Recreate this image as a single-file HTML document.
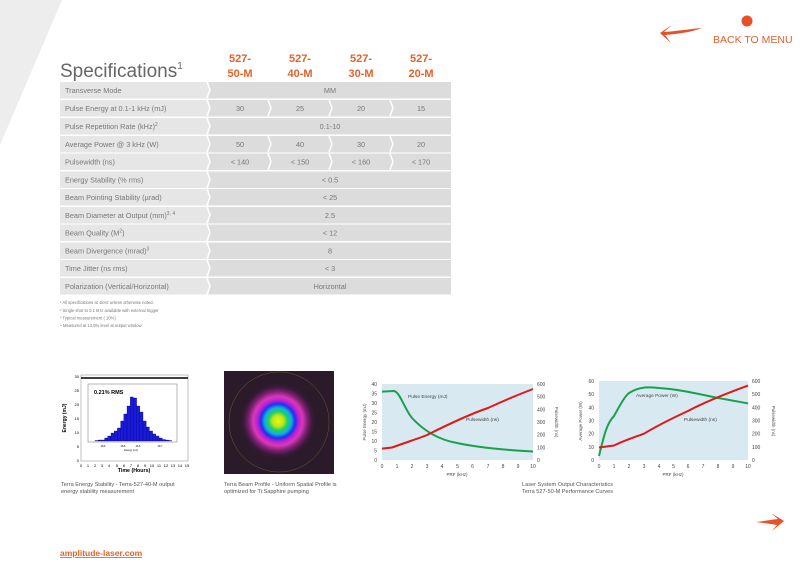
<!DOCTYPE html>
<html><head><meta charset="utf-8"><style>
html,body{margin:0;padding:0;background:#fff;width:800px;height:566px;overflow:hidden}
svg{display:block;font-family:"Liberation Sans",sans-serif}
</style></head><body>
<svg width="800" height="566" viewBox="0 0 800 566" xmlns="http://www.w3.org/2000/svg">
<defs>
<radialGradient id="beam" cx="0.5" cy="0.5" r="0.5">
<stop offset="0" stop-color="#f4f020"/>
<stop offset="0.15" stop-color="#b8e818"/>
<stop offset="0.25" stop-color="#20d060"/>
<stop offset="0.35" stop-color="#10b0e0"/>
<stop offset="0.45" stop-color="#2030f0"/>
<stop offset="0.55" stop-color="#c020d0"/>
<stop offset="0.65" stop-color="#d838b8"/>
<stop offset="0.78" stop-color="#7a2070"/>
<stop offset="0.9" stop-color="#3a1a3a"/>
<stop offset="1" stop-color="#2a1a2a"/>
</radialGradient>
</defs>
<polygon points="0,0 62,0 0,145" fill="#ededed"/>
<circle cx="747" cy="21" r="5.5" fill="#e8502a"/>
<path d="M702,28 C690,29 678,31 664,32 L672,25 L660,33 L671,43 L665,35 C678,34 692,32 702,28 Z" fill="#e8502a"/>
<text x="713" y="43" font-size="10.5" fill="#e0602a">BACK TO MENU</text>
<text x="60" y="77" font-size="19" fill="#666">Specifications<tspan font-size="10" dy="-8">1</tspan></text>
<g font-size="11" font-weight="bold" fill="#e0622a" text-anchor="middle">
<text x="240" y="62">527-</text><text x="240" y="77">50-M</text>
<text x="300" y="62">527-</text><text x="300" y="77">40-M</text>
<text x="361" y="62">527-</text><text x="361" y="77">30-M</text>
<text x="421" y="62">527-</text><text x="421" y="77">20-M</text>
</g>
<g>
<g fill="#e6e6e6">
<rect x="60" y="82" width="150" height="16.5"/><rect x="60" y="100" width="150" height="16.5"/><rect x="60" y="118" width="150" height="16.5"/><rect x="60" y="136" width="150" height="16.5"/><rect x="60" y="153.5" width="150" height="16.5"/><rect x="60" y="171.5" width="150" height="16.5"/><rect x="60" y="189" width="150" height="16.5"/><rect x="60" y="207" width="150" height="16.5"/><rect x="60" y="224.5" width="150" height="16.5"/><rect x="60" y="242.5" width="150" height="16.5"/><rect x="60" y="260" width="150" height="16.5"/><rect x="60" y="278" width="150" height="16.5"/>
</g>
<g fill="#dcdcdc">
<rect x="209" y="82" width="242" height="16.5"/><rect x="209" y="100" width="242" height="16.5"/><rect x="209" y="118" width="242" height="16.5"/><rect x="209" y="136" width="242" height="16.5"/><rect x="209" y="153.5" width="242" height="16.5"/><rect x="209" y="171.5" width="242" height="16.5"/><rect x="209" y="189" width="242" height="16.5"/><rect x="209" y="207" width="242" height="16.5"/><rect x="209" y="224.5" width="242" height="16.5"/><rect x="209" y="242.5" width="242" height="16.5"/><rect x="209" y="260" width="242" height="16.5"/><rect x="209" y="278" width="242" height="16.5"/>
</g>
<g stroke="#fff" stroke-width="1.5" fill="none">
<path d="M207,82 L210,90 L207,98 M207,100 L210,108 L207,116 M207,118 L210,126 L207,134 M207,136 L210,144 L207,152 M207,153.5 L210,161.5 L207,170 M207,171.5 L210,179.5 L207,188 M207,189 L210,197 L207,205.5 M207,207 L210,215 L207,223 M207,224.5 L210,232.5 L207,241 M207,242.5 L210,250.5 L207,259 M207,260 L210,268 L207,276.5 M207,278 L210,286 L207,294.5"/>
<path d="M268,100 L271,108 L268,116 M329,100 L332,108 L329,116 M390,100 L393,108 L390,116 M268,136 L271,144 L268,152 M329,136 L332,144 L329,152 M390,136 L393,144 L390,152 M268,153.5 L271,161.5 L268,170 M329,153.5 L332,161.5 L329,170 M390,153.5 L393,161.5 L390,170"/>
</g>
<g font-size="7.3" fill="#777">
<text x="65" y="93">Transverse Mode</text>
<text x="65" y="111">Pulse Energy at 0.1-1 kHz (mJ)</text>
<text x="65" y="129">Pulse Repetition Rate (kHz)<tspan font-size="5" dy="-3">2</tspan></text>
<text x="65" y="147">Average Power @ 3 kHz (W)</text>
<text x="65" y="164.5">Pulsewidth (ns)</text>
<text x="65" y="182.5">Energy Stability (% rms)</text>
<text x="65" y="200">Beam Pointing Stability (µrad)</text>
<text x="65" y="218">Beam Diameter at Output (mm)<tspan font-size="5" dy="-3">3, 4</tspan></text>
<text x="65" y="235.5">Beam Quality (M<tspan font-size="5" dy="-3">2</tspan><tspan dy="3">)</tspan></text>
<text x="65" y="253.5">Beam Divergence (mrad)<tspan font-size="5" dy="-3">3</tspan></text>
<text x="65" y="271">Time Jitter (ns rms)</text>
<text x="65" y="289">Polarization (Vertical/Horizontal)</text>
</g>
<g font-size="7.3" fill="#777" text-anchor="middle">
<text x="330" y="93">MM</text>
<text x="240" y="111">30</text><text x="300" y="111">25</text><text x="361" y="111">20</text><text x="421" y="111">15</text>
<text x="330" y="129">0.1-10</text>
<text x="240" y="147">50</text><text x="300" y="147">40</text><text x="361" y="147">30</text><text x="421" y="147">20</text>
<text x="240" y="164.5">&lt; 140</text><text x="300" y="164.5">&lt; 150</text><text x="361" y="164.5">&lt; 160</text><text x="421" y="164.5">&lt; 170</text>
<text x="330" y="182.5">&lt; 0.5</text>
<text x="330" y="200">&lt; 25</text>
<text x="330" y="218">2.5</text>
<text x="330" y="235.5">&lt; 12</text>
<text x="330" y="253.5">8</text>
<text x="330" y="271">&lt; 3</text>
<text x="330" y="289">Horizontal</text>
</g>
</g>
<g font-size="4.2" fill="#777">
<text x="60" y="304">¹ All specifications at 1kHz unless otherwise noted.</text>
<text x="60" y="312">² Single shot to 0.1 kHz available with external trigger</text>
<text x="60" y="319.5">³ Typical measurement (  10%)</text>
<text x="60" y="327">⁴ Measured at 13.5% level at output window</text>
</g>
<rect x="81" y="375" width="107" height="86" fill="#fff" stroke="#999" stroke-width="0.6"/>
<line x1="81" y1="378" x2="188" y2="378" stroke="#000" stroke-width="1.5"/>
<rect x="88" y="384" width="89" height="58" fill="#fff" stroke="#888" stroke-width="0.6"/>
<text x="94" y="394" font-size="5.5" font-weight="bold" fill="#000">0.21% RMS</text>
<g fill="#1a1adc" stroke="#000060" stroke-width="0.3">
<rect x="95" y="440.5" width="3.2" height="0.5"/><rect x="98.2" y="440" width="3.2" height="1"/><rect x="101.4" y="440" width="3.2" height="1"/><rect x="104.6" y="438" width="3.2" height="3"/><rect x="107.8" y="436" width="3.2" height="5"/><rect x="111" y="433" width="3.2" height="8"/><rect x="114.2" y="431" width="3.2" height="10"/><rect x="117.4" y="428" width="3.2" height="13"/><rect x="120.6" y="421" width="3.2" height="20"/><rect x="123.8" y="414" width="3.2" height="27"/><rect x="127" y="406" width="3.2" height="35"/><rect x="130.2" y="397" width="3.2" height="44"/><rect x="133.4" y="398" width="3.2" height="43"/><rect x="136.6" y="406" width="3.2" height="35"/><rect x="139.8" y="412" width="3.2" height="29"/><rect x="143" y="421" width="3.2" height="20"/><rect x="146.2" y="427" width="3.2" height="14"/><rect x="149.4" y="431" width="3.2" height="10"/><rect x="152.6" y="434" width="3.2" height="7"/><rect x="155.8" y="436" width="3.2" height="5"/><rect x="159" y="438" width="3.2" height="3"/><rect x="162.2" y="439.5" width="3.2" height="1.5"/><rect x="165.4" y="440" width="3.2" height="1"/><rect x="168.6" y="440.5" width="3.2" height="0.5"/>
</g>
<g font-size="2.5" fill="#000" text-anchor="middle"><text x="103" y="447">28.6</text><text x="123" y="447">28.5</text><text x="138" y="447">28.6</text><text x="160" y="447">28.7</text><text x="131" y="451">Energy (mJ)</text></g>
<g font-size="4" fill="#000" text-anchor="end">
<text x="79" y="378">30</text><text x="79" y="392">25</text><text x="79" y="406">20</text><text x="79" y="420">15</text><text x="79" y="434">10</text><text x="79" y="448">5</text><text x="79" y="462">0</text>
</g>
<g font-size="4" fill="#000" text-anchor="middle">
<text x="81" y="467">0</text><text x="88" y="467">1</text><text x="95" y="467">2</text><text x="102" y="467">3</text><text x="109" y="467">4</text><text x="117" y="467">5</text><text x="124" y="467">6</text><text x="131" y="467">7</text><text x="138" y="467">8</text><text x="145" y="467">9</text><text x="152" y="467">10</text><text x="159" y="467">11</text><text x="166" y="467">12</text><text x="173" y="467">13</text><text x="180" y="467">14</text><text x="187" y="467">15</text>
</g>
<text x="134" y="472" font-size="5.3" font-weight="bold" text-anchor="middle" fill="#000">Time (Hours)</text>
<text x="66" y="418" font-size="5" font-weight="bold" fill="#000" transform="rotate(-90 66 418)" text-anchor="middle">Energy (mJ)</text>
<g font-size="5.6" fill="#555"><text x="61" y="486">Terra Energy Stability - Terra-527-40-M output</text><text x="61" y="493">energy stability measurement</text></g>
<rect x="224" y="371" width="110" height="103" fill="#2a1a2a"/>
<circle cx="278" cy="421" r="38" fill="url(#beam)"/>
<circle cx="279" cy="422" r="50" fill="none" stroke="#6a6030" stroke-width="0.5"/>
<g font-size="5.6" fill="#555"><text x="224" y="486">Terra Beam Profile - Uniform Spatial Profile is</text><text x="224" y="493">optimized for Ti:Sapphire pumping</text></g>
<rect x="382" y="384" width="151" height="76" fill="#d9e9f2"/>
<g font-size="5" fill="#444" text-anchor="end">
<text x="377" y="386">40</text><text x="377" y="395.5">35</text><text x="377" y="405">30</text><text x="377" y="414.5">25</text><text x="377" y="424">20</text><text x="377" y="433.5">15</text><text x="377" y="443">10</text><text x="377" y="452.5">5</text><text x="377" y="462">0</text>
</g>
<g font-size="5" fill="#444">
<text x="537" y="386">600</text><text x="537" y="398.6">500</text><text x="537" y="411.3">400</text><text x="537" y="424">300</text><text x="537" y="436.7">200</text><text x="537" y="449.3">100</text><text x="537" y="462">0</text>
</g>
<g font-size="5" fill="#444" text-anchor="middle">
<text x="382" y="468">0</text><text x="397" y="468">1</text><text x="412" y="468">2</text><text x="427" y="468">3</text><text x="442" y="468">4</text><text x="457.5" y="468">5</text><text x="472.5" y="468">6</text><text x="488" y="468">7</text><text x="503" y="468">8</text><text x="518" y="468">9</text><text x="533" y="468">10</text>
<text x="457" y="476" font-size="4.5">PRF (kHz)</text>
</g>
<text x="366" y="422" font-size="4.5" fill="#555" text-anchor="middle" transform="rotate(-90 366 422)">Pulse Energy (mJ)</text>
<text x="555" y="422" font-size="4.5" fill="#555" text-anchor="middle" transform="rotate(90 555 422)">Pulsewidth (ns)</text>
<path d="M382,391.6 L394,391 C400,392 405,410 412,418 C425,432 440,440 457,443 C480,448 505,450 533,451.5" fill="none" stroke="#19a04a" stroke-width="2"/>
<path d="M382,448.6 L392,447.5 C410,441 420,438 427,435 C445,426 470,414 488,408 C505,400 520,394 533,389" fill="none" stroke="#e01818" stroke-width="2"/>
<text x="408" y="398" font-size="4.8" fill="#444">Pulse Energy (mJ)</text>
<text x="466" y="421" font-size="4.8" fill="#444">Pulsewidth (ns)</text>
<rect x="599" y="381" width="149" height="79" fill="#d9e9f2"/>
<g font-size="5" fill="#444" text-anchor="end">
<text x="594" y="383">60</text><text x="594" y="396.2">50</text><text x="594" y="409.3">40</text><text x="594" y="422.5">30</text><text x="594" y="435.7">20</text><text x="594" y="448.8">10</text><text x="594" y="462">0</text>
</g>
<g font-size="5" fill="#444">
<text x="752" y="383">600</text><text x="752" y="396.2">500</text><text x="752" y="409.3">400</text><text x="752" y="422.5">300</text><text x="752" y="435.7">200</text><text x="752" y="448.8">100</text><text x="752" y="462">0</text>
</g>
<g font-size="5" fill="#444" text-anchor="middle">
<text x="599" y="468">0</text><text x="614" y="468">1</text><text x="629" y="468">2</text><text x="644" y="468">3</text><text x="659" y="468">4</text><text x="673.5" y="468">5</text><text x="688" y="468">6</text><text x="703" y="468">7</text><text x="718" y="468">8</text><text x="733" y="468">9</text><text x="748" y="468">10</text>
<text x="673" y="476" font-size="4.5">PRF (kHz)</text>
</g>
<text x="582" y="421" font-size="4.5" fill="#555" text-anchor="middle" transform="rotate(-90 582 421)">Average Power (W)</text>
<text x="772" y="421" font-size="4.5" fill="#555" text-anchor="middle" transform="rotate(90 772 421)">Pulsewidth (ns)</text>
<path d="M599,456 C603,440 606,424 614,416 C620,405 625,396 629,393 C640,386 650,387 659,388 C675,389 690,392 718,398 C730,400 740,402 748,403.4" fill="none" stroke="#19a04a" stroke-width="2"/>
<path d="M599,447.5 L614,445.5 C625,440 635,437 644,433.7 C660,424 675,417 688,411 C705,402 725,394 748,385.6" fill="none" stroke="#e01818" stroke-width="2"/>
<text x="636" y="397" font-size="4.8" fill="#444">Average Power (W)</text>
<text x="684" y="421" font-size="4.8" fill="#444">Pulsewidth (ns)</text>
<g font-size="5.6" fill="#555"><text x="522" y="486">Laser System Output Characteristics</text><text x="522" y="493">Terra 527-50-M Performance Curves</text></g>
<path d="M756,522 C764,521 770,520 778,519 L771,513 L784,521 L772,531 L777,525 C770,524 764,523 756,522 Z" fill="#e8502a"/>
<text x="60" y="556" font-size="8.5" font-weight="bold" fill="#e0622a" text-decoration="underline">amplitude-laser.com</text>
</svg>
</body></html>
